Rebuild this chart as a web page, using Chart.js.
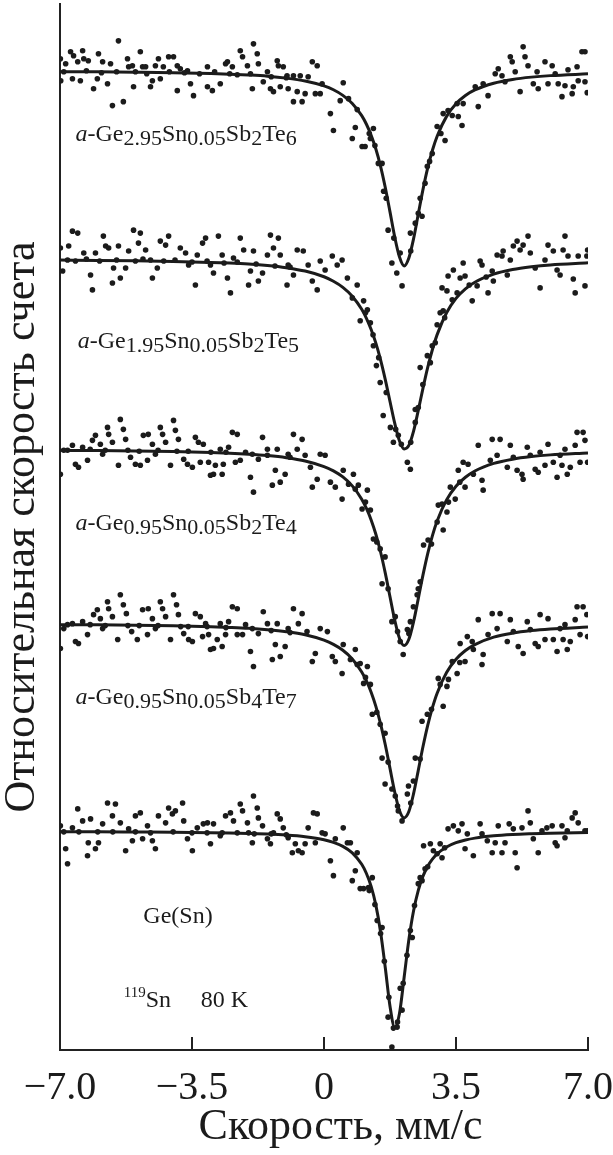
<!DOCTYPE html>
<html><head><meta charset="utf-8">
<script src="https://cdn.jsdelivr.net/npm/chart.js@4.4.0/dist/chart.umd.min.js"></script>
<style>html,body{margin:0;padding:0;background:#fff;}canvas{display:block;}</style>
</head><body>
<canvas id="c" width="613" height="1155"></canvas>
<script>
// ---- tick labels / axis values (velocity, mm/s) ----
const velocityTicks = [-7, -3.5, 0, 3.5, 7];

// ---- fitted curves (shared velocity grid) ----
const fitVelocity = [-7,-6,-5,-4,-3,-2.5,-2,-1.5,-1,-0.5,0,0.25,0.5,0.75,1,1.125,1.25,1.375,1.5,1.625,1.75,1.875,2,2.125,2.25,2.375,2.5,2.625,2.75,2.875,3,3.25,3.5,3.75,4,4.5,5,5.5,6,7];
const fitGe295 = [98.21,98.19,98.15,98.10,98.02,97.96,97.87,97.75,97.56,97.27,96.78,96.39,95.83,95.02,93.79,92.93,91.83,90.44,88.71,86.58,84.13,81.62,79.62,78.70,79.50,81.43,83.92,86.39,88.55,90.32,91.73,93.72,94.98,95.81,96.37,97.05,97.43,97.66,97.81,97.99];
const fitGe195 = [79.29,79.26,79.22,79.16,79.06,78.99,78.89,78.74,78.52,78.19,77.62,77.17,76.56,75.67,74.35,73.45,72.33,70.96,69.28,67.30,65.10,62.92,61.16,60.33,60.69,62.13,64.21,66.44,68.52,70.32,71.81,74.01,75.45,76.41,77.07,77.88,78.34,78.62,78.81,79.02];
const fitGe095Te4 = [60.20,60.17,60.13,60.07,59.98,59.91,59.81,59.67,59.46,59.13,58.57,58.14,57.53,56.63,55.29,54.36,53.21,51.77,49.99,47.87,45.50,43.16,41.34,40.60,41.23,42.99,45.31,47.69,49.83,51.64,53.10,55.22,56.59,57.49,58.12,58.88,59.31,59.57,59.74,59.94];
const fitGe095Te7 = [42.70,42.68,42.64,42.58,42.49,42.42,42.33,42.19,41.99,41.68,41.14,40.72,40.13,39.26,37.95,37.05,35.92,34.50,32.74,30.64,28.27,25.90,24.05,23.30,23.94,25.73,28.07,30.46,32.59,34.37,35.82,37.89,39.22,40.10,40.70,41.44,41.85,42.10,42.26,42.46];
const fitGeSn = [21.91,21.90,21.88,21.86,21.82,21.79,21.74,21.68,21.58,21.41,21.11,20.84,20.44,19.79,18.64,17.72,16.42,14.54,11.85,8.26,4.40,2.28,3.63,7.30,11.07,13.97,16.03,17.45,18.45,19.16,19.69,20.38,20.81,21.08,21.27,21.50,21.63,21.71,21.77,21.83];

// ---- measured points [velocity, relative count rate (arb. units)] ----
const ptsGe295 = [[-6.99,99.5],[-6.85,99.0],[-6.72,100.2],[-6.64,99.8],[-6.53,99.2],[-6.40,100.3],[-6.37,99.5],[-6.25,99.3],[-5.98,100.0],[-5.87,99.2],[-5.66,99.0],[-5.45,101.3],[-5.21,99.5],[-5.18,98.7],[-5.08,98.8],[-4.87,100.2],[-4.81,98.7],[-4.73,98.7],[-4.47,98.8],[-4.39,99.5],[-4.26,98.7],[-4.12,99.7],[-3.99,99.7],[-3.89,98.8],[-3.81,98.5],[-3.62,98.3],[-3.09,98.7],[-2.61,99.0],[-2.56,99.2],[-2.43,98.7],[-2.22,100.3],[-2.16,99.7],[-2.03,98.8],[-1.87,101.0],[-1.77,100.0],[-1.74,99.0],[-1.50,98.2],[-1.24,99.3],[-1.21,98.8],[-1.08,98.7],[-0.98,97.8],[-0.81,97.8],
[-6.98,97.3],[-6.67,97.5],[-6.46,97.3],[-6.11,96.5],[-6.01,97.5],[-5.74,97.0],[-5.61,94.8],[-5.32,95.2],[-5.05,96.7],[-4.60,96.7],[-4.55,97.3],[-4.34,97.5],[-3.89,96.3],[-3.54,97.0],[-3.46,95.8],[-3.09,96.7],[-2.96,96.3],[-2.75,97.0],[-1.90,96.5],[-1.61,97.2],[-1.42,96.5],[-1.34,96.2],[-1.16,96.7],[-0.95,96.5],[-0.81,95.2],[-0.71,96.2],
[-6.9,98.2],[-6.3,98.3],[-5.9,98.1],[-5.5,98.2],[-5.0,98.2],[-4.7,98.0],[-4.1,98.2],[-3.7,98.1],[-3.3,98.0],[-2.9,98.2],[-2.5,98.0],[-2.3,97.9],[-1.95,98.0],[-1.4,97.7],[-1.0,97.6],
[-0.63,97.8],[-0.58,95.2],[-0.50,96.0],[-0.42,97.7],[-0.31,99.2],[-0.18,98.8],[-0.23,96.0],[-0.10,96.0],[-0.05,97.0],[0.17,94.0],[0.25,92.3],[0.43,95.3],[0.51,97.1],[0.65,95.5],[0.75,91.5],[0.83,92.6],[0.88,94.4],[1.01,90.7],[1.09,90.7],[1.23,91.5],[1.31,92.5],[1.44,89.0],[1.54,89.0],[1.58,86.2],[1.70,82.3],[1.80,79.0],[1.93,78.0],[2.07,76.7],[2.02,80.0],[2.29,82.0],[2.42,83.0],[2.60,83.7],[2.68,87.0],[2.74,88.7],[2.87,90.0],[3.00,92.7],[3.21,91.3],[3.16,94.0],[3.29,94.3],[3.53,95.0],[3.56,93.7],[3.66,92.8],[3.69,95.0],[4.01,96.7],[4.09,94.7],[4.22,97.0],[4.35,95.8],[4.54,98.0],[4.62,98.5],[4.72,97.8],[4.80,97.2],[4.94,99.7],[4.99,99.2],[5.07,98.2],[5.20,96.2],[5.28,100.7],[5.33,99.7],[5.41,98.8],[5.55,97.0],[5.65,98.2],[5.68,96.5],[5.86,99.2],[5.94,97.0],[6.05,98.8],[6.13,98.0],[6.21,97.0],[6.31,95.7],[6.39,96.8],[6.47,98.4],[6.58,96.0],[6.61,96.7],[6.71,98.7],[6.74,97.3],[6.84,100.2],[6.92,100.2],[6.92,97.2],[6.98,96.1],
[1.2,92.0],[1.35,90.8],[1.65,85.5],[1.85,81.5],[2.3,80.2],[2.5,84.0],[2.55,85.5],[2.8,89.2],[3.1,92.0],[3.4,93.8]];

const ptsGe195 = [[-6.99,80.5],[-6.93,78.2],[-6.77,80.7],[-6.67,82.2],[-6.53,82.0],[-6.59,79.2],[-6.37,80.0],[-6.19,77.8],[-6.14,76.3],[-6.06,80.0],[-5.85,81.7],[-5.79,80.7],[-5.71,80.5],[-5.61,77.0],[-5.58,78.5],[-5.45,80.7],[-5.40,77.5],[-5.26,78.5],[-5.18,80.2],[-5.05,82.3],[-4.92,81.0],[-4.87,82.0],[-4.73,80.3],[-4.60,79.3],[-4.55,77.5],[-4.42,78.5],[-4.34,81.2],[-4.20,80.8],[-4.12,81.7],[-3.81,80.5],[-3.67,80.0],[-3.59,78.8],[-3.41,76.8],[-3.36,79.8],[-3.22,81.0],[-3.14,81.5],[-3.01,78.8],[-2.93,78.0],[-2.80,81.7],[-2.70,79.8],[-2.56,77.5],[-2.48,76.0],[-2.40,79.5],[-2.22,81.5],[-2.13,80.3],[-2.00,76.8],[-1.95,78.2],[-1.87,80.2],[-1.74,77.2],[-1.63,78.0],[-1.50,79.8],[-1.42,81.8],[-1.34,80.5],[-1.21,81.5],[-1.16,79.8],[-0.98,76.8],[-0.95,78.8],[-0.81,77.8],[-0.71,80.3],
[-6.8,79.3],[-6.3,79.4],[-5.95,79.2],[-5.5,79.3],[-5.0,79.2],[-4.8,79.4],[-4.25,79.2],[-3.95,79.3],[-3.5,79.1],[-3.1,79.2],[-2.65,79.0],[-2.3,79.1],[-1.8,78.9],[-1.3,78.7],[-0.9,78.6],
[-0.55,80.2],[-0.42,78.8],[-0.31,77.2],[-0.18,76.3],[-0.10,79.2],[0.03,78.3],[0.22,79.7],[0.35,78.8],[0.48,79.3],[0.62,77.5],[0.75,75.5],[0.88,76.8],[0.96,73.2],[1.05,75.2],[1.15,74.3],[1.23,73.0],[1.31,70.7],[1.39,68.7],[1.49,67.0],[1.57,63.7],[1.76,62.5],[1.84,61.0],[1.97,61.7],[2.21,59.0],[2.29,58.3],[2.42,63.0],[2.42,64.3],[2.55,68.5],[2.74,69.7],[2.82,69.0],[2.87,70.7],[3.00,72.8],[3.08,74.0],[3.16,74.2],[3.13,76.5],[3.26,76.2],[3.29,77.7],[3.43,78.3],[3.53,76.0],[3.61,77.5],[3.69,79.0],[3.74,77.7],[3.93,75.2],[4.06,76.7],[4.19,78.8],[4.14,79.2],[4.35,76.0],[4.46,78.2],[4.49,77.2],[4.59,79.8],[4.72,79.7],[4.75,80.2],[4.86,77.8],[4.94,79.3],[5.02,80.7],[5.12,81.2],[5.20,80.3],[5.28,80.8],[5.41,81.7],[5.47,80.0],[5.60,78.5],[5.73,76.5],[5.86,79.3],[5.94,80.8],[6.08,80.2],[6.18,78.3],[6.26,77.8],[6.34,80.3],[6.39,81.7],[6.47,79.7],[6.61,77.4],[6.66,76.0],[6.74,79.7],[6.92,76.7],[6.97,79.7],[6.99,80.3],
[1.1,74.0],[1.3,71.8],[1.45,69.5],[1.65,66.0],[1.9,62.3],[2.05,60.8],[2.3,61.0],[2.5,64.5],[2.62,66.8],[2.95,71.0],[3.2,73.5],[3.4,75.3],[3.85,76.8],[4.3,77.6]];

const ptsGe095Te4 = [[-6.99,57.8],[-6.90,60.2],[-6.67,60.7],[-6.59,58.8],[-6.51,58.5],[-6.40,60.5],[-6.27,59.2],[-6.14,61.2],[-6.06,61.7],[-5.93,60.8],[-5.87,59.8],[-5.74,62.5],[-5.71,61.8],[-5.61,61.0],[-5.45,58.7],[-5.40,63.3],[-5.32,62.3],[-5.26,61.3],[-5.13,59.5],[-5.00,58.8],[-4.87,58.7],[-4.79,61.7],[-4.68,59.2],[-4.66,61.8],[-4.55,60.8],[-4.47,59.8],[-4.34,62.5],[-4.28,61.8],[-4.20,61.0],[-4.07,58.7],[-3.99,63.2],[-3.94,62.2],[-3.86,61.3],[-3.72,59.3],[-3.62,58.8],[-3.49,58.5],[-3.41,61.5],[-3.33,61.0],[-3.28,59.0],[-3.20,60.8],[-3.06,59.0],[-3.01,57.7],[-2.93,57.8],[-2.88,58.7],[-2.75,60.3],[-2.70,57.8],[-2.67,58.8],[-2.53,60.5],[-2.43,62.0],[-2.30,61.8],[-2.35,59.0],[-2.22,59.2],[-2.08,60.0],[-1.95,57.5],[-1.87,56.0],[-1.74,59.3],[-1.63,61.5],[-1.50,60.3],[-1.37,56.7],[-1.29,58.2],[-1.24,60.3],[-1.16,57.0],[-1.03,57.8],[-0.95,59.8],[-0.81,61.8],[-0.71,60.3],
[-6.8,60.2],[-6.2,60.3],[-5.8,60.2],[-5.2,60.2],[-4.9,60.1],[-4.4,60.2],[-3.9,60.1],[-3.6,60.1],[-3.0,60.0],[-2.6,60.0],[-1.9,59.8],[-1.5,59.7],[-0.9,59.5],
[-0.58,61.3],[-0.50,59.7],[-0.36,58.5],[-0.31,56.5],[-0.18,57.3],[-0.10,59.8],[0.03,59.7],[0.17,57.0],[0.30,56.5],[0.48,55.3],[0.51,58.2],[0.65,56.8],[0.78,57.8],[0.83,56.3],[0.91,56.7],[1.01,54.3],[1.15,56.2],[1.23,54.2],[1.31,51.3],[1.49,50.3],[1.62,49.5],[1.54,46.8],[1.80,43.0],[1.89,43.5],[2.02,41.0],[2.10,39.7],[2.21,42.2],[2.29,43.0],[2.37,44.5],[2.47,45.7],[2.50,46.3],[2.64,50.7],[2.76,51.2],[3.16,52.2],[3.03,54.7],[3.13,54.8],[3.26,54.0],[3.35,56.5],[3.48,55.3],[3.56,58.2],[3.74,56.5],[3.69,59.0],[3.82,58.8],[3.96,57.8],[4.09,60.7],[4.19,57.2],[4.22,56.2],[4.41,59.2],[4.46,61.3],[4.59,59.7],[4.67,61.3],[4.86,58.5],[4.94,60.7],[5.02,59.5],[5.12,58.2],[5.25,57.8],[5.28,57.3],[5.39,60.5],[5.47,59.7],[5.60,58.3],[5.68,58.0],[5.73,60.0],[5.86,58.7],[5.94,60.8],[6.08,59.0],[6.18,57.5],[6.26,59.7],[6.31,58.7],[6.39,60.3],[6.45,57.8],[6.53,58.5],[6.66,60.7],[6.71,62.0],[6.79,59.0],[6.87,62.0],[6.92,61.2],[6.99,59.0],
[1.1,55.0],[1.4,51.0],[1.7,46.3],[1.95,42.0],[2.25,41.8],[2.55,47.0],[2.85,50.8],[3.0,53.0],[3.3,55.0],[3.6,57.0]];

const ptsGe095Te7 = [[-6.99,40.3],[-6.90,42.3],[-6.67,42.8],[-6.59,41.0],[-6.51,40.8],[-6.40,43.0],[-6.27,41.7],[-6.11,43.7],[-6.01,44.2],[-5.93,43.3],[-5.87,42.3],[-5.74,45.0],[-5.71,44.3],[-5.61,43.5],[-5.47,41.2],[-5.40,45.7],[-5.32,44.7],[-5.24,43.8],[-5.10,42.0],[-4.95,41.2],[-4.81,44.2],[-4.68,41.7],[-4.66,44.3],[-4.55,43.3],[-4.47,42.3],[-4.34,45.0],[-4.28,44.3],[-4.20,43.5],[-4.07,41.2],[-3.99,45.7],[-3.91,44.7],[-3.86,43.7],[-3.72,41.8],[-3.59,41.2],[-3.49,41.0],[-3.41,43.8],[-3.28,43.5],[-3.22,41.5],[-3.14,42.8],[-3.06,41.7],[-3.01,40.2],[-2.93,40.3],[-2.83,41.2],[-2.75,42.8],[-2.70,40.5],[-2.61,41.7],[-2.53,43.0],[-2.43,44.5],[-2.30,44.3],[-2.30,41.7],[-2.16,41.7],[-2.08,42.7],[-1.95,40.0],[-1.87,38.5],[-1.74,41.8],[-1.61,44.0],[-1.50,42.8],[-1.37,39.2],[-1.29,40.7],[-1.24,42.8],[-1.16,39.5],[-1.03,40.5],[-0.95,42.3],[-0.81,44.3],[-0.68,42.8],
[-6.8,42.7],[-6.2,42.7],[-5.8,42.6],[-5.2,42.6],[-4.9,42.6],[-4.4,42.6],[-3.8,42.5],[-3.6,42.5],[-3.1,42.5],[-2.6,42.4],[-1.9,42.3],[-1.4,42.1],[-0.9,41.9],
[-0.58,43.8],[-0.45,42.0],[-0.31,39.0],[-0.23,39.8],[-0.10,42.3],[0.09,42.0],[0.22,39.5],[0.30,39.0],[0.48,37.8],[0.51,40.7],[0.70,39.2],[0.83,40.2],[0.88,38.7],[0.96,38.8],[1.05,36.8],[1.15,38.5],[1.23,36.7],[1.28,33.7],[1.49,32.7],[1.62,31.8],[1.54,29.3],[1.62,26.7],[1.80,26.2],[1.89,25.5],[1.97,24.0],[2.07,23.0],[2.21,25.7],[2.24,26.5],[2.37,27.0],[2.42,29.3],[2.60,33.0],[2.74,33.7],[3.03,37.3],[3.08,36.7],[3.16,34.5],[3.26,36.5],[3.40,39.0],[3.53,37.8],[3.61,40.8],[3.74,39.0],[3.80,41.5],[3.93,41.0],[3.96,40.2],[4.09,43.2],[4.22,39.7],[4.19,38.7],[4.35,41.7],[4.46,43.8],[4.59,42.3],[4.67,43.8],[4.86,41.0],[4.94,43.2],[5.02,42.0],[5.15,40.5],[5.28,39.8],[5.39,43.0],[5.47,42.2],[5.60,40.8],[5.68,40.5],[5.73,43.7],[5.86,41.2],[5.94,43.3],[6.08,41.2],[6.18,40.0],[6.26,42.3],[6.34,41.2],[6.39,42.7],[6.45,40.2],[6.53,41.0],[6.66,43.2],[6.71,44.5],[6.79,41.7],[6.87,44.5],[6.97,43.7],[6.99,41.5],
[1.1,37.4],[1.4,33.9],[1.7,28.9],[1.95,24.5],[2.3,24.8],[2.55,29.2],[2.85,34.2],[3.3,37.2],[3.6,38.9]];

const ptsGeSn = [[-6.99,22.5],[-6.85,20.2],[-6.80,18.7],[-6.67,22.3],[-6.53,24.2],[-6.40,23.0],[-6.27,19.5],[-6.25,20.8],[-6.19,23.2],[-6.06,20.2],[-5.98,20.8],[-5.87,22.7],[-5.74,24.8],[-5.61,23.5],[-5.53,24.7],[-5.40,22.8],[-5.26,20.0],[-5.18,22.2],[-5.08,21.0],[-5.00,23.5],[-4.87,23.8],[-4.81,21.2],[-4.68,22.5],[-4.55,21.0],[-4.47,20.2],[-4.39,23.5],[-4.20,22.8],[-4.12,24.3],[-4.02,23.7],[-3.94,24.0],[-3.75,24.8],[-3.72,23.0],[-3.62,21.2],[-3.49,20.0],[-3.36,22.3],[-3.20,22.7],[-3.09,22.8],[-3.01,20.7],[-2.93,22.7],[-2.75,21.5],[-2.61,23.5],[-2.48,23.8],[-2.40,23.0],[-2.22,24.7],[-2.16,24.0],[-2.03,22.8],[-2.00,21.8],[-1.90,20.8],[-1.87,25.5],[-1.77,24.3],[-1.74,23.3],[-1.63,22.5],[-1.50,21.2],[-1.42,20.7],[-1.34,21.8],[-1.24,23.7],[-1.16,23.2],[-1.08,22.3],[-0.95,21.3],[-0.84,19.8],[-0.76,20.7],[-0.68,20.0],
[-6.9,21.9],[-6.5,21.9],[-6.0,21.9],[-5.6,21.9],[-5.0,21.9],[-4.6,21.8],[-4.0,21.9],[-3.5,21.8],[-3.1,21.8],[-2.7,21.8],[-2.3,21.8],[-1.85,21.7],[-1.4,21.7],[-1.0,21.6],
[-0.58,19.8],[-0.50,20.7],[-0.42,22.3],[-0.28,23.8],[-0.18,23.7],[-0.23,20.8],[-0.05,21.8],[0.03,21.7],[0.17,19.0],[0.25,17.5],[0.30,21.2],[0.51,22.3],[0.62,20.8],[0.70,20.8],[0.75,17.0],[0.83,18.0],[0.88,19.8],[0.96,16.2],[1.05,16.2],[1.18,16.3],[1.28,17.3],[1.41,13.0],[1.54,12.3],[1.70,3.3],[1.84,2.2],[1.94,2.3],[2.07,4.0],[2.02,6.2],[2.29,12.0],[2.34,11.3],[2.50,16.7],[2.55,17.3],[2.68,18.2],[2.64,20.5],[2.82,20.7],[2.90,20.0],[3.08,20.7],[3.13,19.3],[3.29,22.2],[3.43,22.5],[3.56,22.0],[3.66,22.7],[3.80,21.7],[3.74,20.2],[3.96,19.5],[4.14,22.7],[4.19,21.7],[4.33,21.0],[4.46,19.8],[4.54,20.8],[4.62,22.5],[4.72,19.8],[4.80,20.8],[4.91,22.7],[5.02,22.2],[5.07,19.8],[5.12,18.3],[5.25,22.3],[5.41,24.0],[5.47,22.8],[5.55,21.2],[5.68,19.8],[5.78,22.0],[5.91,22.3],[6.05,22.5],[6.13,20.8],[6.18,20.5],[6.31,22.5],[6.45,22.0],[6.39,21.3],[6.58,23.3],[6.66,23.8],[6.74,22.8],[6.92,22.0],[6.99,22.0],[1.80,0.3],
[1.2,16.0],[1.35,14.6],[1.5,11.7],[1.6,8.9],[1.72,5.3],[1.95,2.8],[2.1,6.7],[2.2,9.5],[2.4,14.5],[2.6,17.0],[2.75,18.4],[3.0,19.7],[3.2,20.3]];

// ---- sample annotations (anchored in data coordinates) ----
const sampleLabels = [
  {v:-6.59, u:91.2, parts:[['a','i'],['-Ge','n'],['2.95','s'],['Sn','n'],['0.05','s'],['Sb','n'],['2','s'],['Te','n'],['6','s']]},
  {v:-6.53, u:70.5, parts:[['a','i'],['-Ge','n'],['1.95','s'],['Sn','n'],['0.05','s'],['Sb','n'],['2','s'],['Te','n'],['5','s']]},
  {v:-6.59, u:52.2, parts:[['a','i'],['-Ge','n'],['0.95','s'],['Sn','n'],['0.05','s'],['Sb','n'],['2','s'],['Te','n'],['4','s']]},
  {v:-6.59, u:34.7, parts:[['a','i'],['-Ge','n'],['0.95','s'],['Sn','n'],['0.05','s'],['Sb','n'],['4','s'],['Te','n'],['7','s']]},
  {v:-4.79, u:12.7, parts:[['Ge(Sn)','n']]},
  {v:-5.31, u:4.3, parts:[['119','sup'],['Sn','n']]},
  {v:-3.27, u:4.3, parts:[['80 K','n']]}
];

const INK = '#1b1b1b';
const SERIF = '"Liberation Serif", "Times New Roman", serif';
const toXY = arr => arr.map(p => ({x:p[0], y:p[1]}));
const fitXY = vals => fitVelocity.map((v,i) => ({x:v, y:vals[i]}));

const fits = [fitGe295, fitGe195, fitGe095Te4, fitGe095Te7, fitGeSn];
const pts = [ptsGe295, ptsGe195, ptsGe095Te4, ptsGe095Te7, ptsGeSn];
const datasets = [];
pts.forEach(p => datasets.push({type:'scatter', data:toXY(p), pointRadius:2.8, pointBackgroundColor:INK, pointBorderWidth:0, showLine:false}));
fits.forEach(f => datasets.push({type:'line', data:fitXY(f), borderColor:INK, borderWidth:3, pointRadius:0, cubicInterpolationMode:'monotone', fill:false}));

const innerTicks = {
  id:'innerTicks',
  afterDraw(chart){
    const {ctx, chartArea, scales:{x}} = chart;
    ctx.save(); ctx.strokeStyle='#222'; ctx.lineWidth=2;
    velocityTicks.forEach(t => {
      if (t === velocityTicks[0]) return;
      const px = Math.round(x.getPixelForValue(t));
      ctx.beginPath(); ctx.moveTo(px, chartArea.bottom); ctx.lineTo(px, chartArea.bottom - 13); ctx.stroke();
    });
    ctx.restore();
  }
};
const labelPlugin = {
  id:'sampleLabels',
  afterDatasetsDraw(chart){
    const {ctx, scales:{x, y}} = chart;
    ctx.save(); ctx.fillStyle = INK; ctx.textBaseline = 'alphabetic'; ctx.textAlign='left';
    sampleLabels.forEach(l => {
      let px = x.getPixelForValue(l.v);
      const py = y.getPixelForValue(l.u);
      l.parts.forEach(([txt, kind]) => {
        let size = 24, dy = 0, style = '';
        if (kind === 's') { size = 22; dy = 4; }
        else if (kind === 'sup') { size = 15; dy = -10; }
        else if (kind === 'i') { style = 'italic '; }
        ctx.font = style + size + 'px ' + SERIF;
        ctx.fillText(txt, px, py + dy);
        px += ctx.measureText(txt).width;
      });
    });
    ctx.restore();
  }
};

new Chart(document.getElementById('c'), {
  data:{datasets},
  options:{
    responsive:false, animation:false, devicePixelRatio:1, events:[],
    layout:{padding:{left:0, right:25, top:0, bottom:0}},
    plugins:{legend:{display:false}, tooltip:{enabled:false}},
    scales:{
      x:{type:'linear', min:-7, max:7,
        afterBuildTicks: s => { s.ticks = velocityTicks.map(v => ({value:v})); },
        afterFit: s => { s.height = 105; s.paddingLeft = 0; s.paddingRight = 0; },
        grid:{display:false, drawTicks:false},
        border:{display:true, color:'#222', width:2},
        ticks:{padding:14, color:INK, font:{family:SERIF, size:40}, maxRotation:0, autoSkip:false,
          callback: v => v === 0 ? '0' : (v < 0 ? '\u2212' : '') + Math.abs(v).toFixed(1)},
        title:{display:true, text:'\u00A0\u00A0\u00A0Скорость, мм/с', color:INK, font:{family:SERIF, size:44, lineHeight:1}, padding:{top:0, bottom:6}}
      },
      y:{type:'linear', min:0, max:105,
        afterFit: s => { s.width = 60; },
        grid:{display:false, drawTicks:false},
        border:{display:true, color:'#222', width:2},
        ticks:{display:false},
        title:{display:true, text:'Относительная скорость счета', color:INK, font:{family:SERIF, size:44, lineHeight:1}, padding:{top:0, bottom:0}}
      }
    }
  },
  plugins:[innerTicks, labelPlugin]
});
</script>
</body></html>
